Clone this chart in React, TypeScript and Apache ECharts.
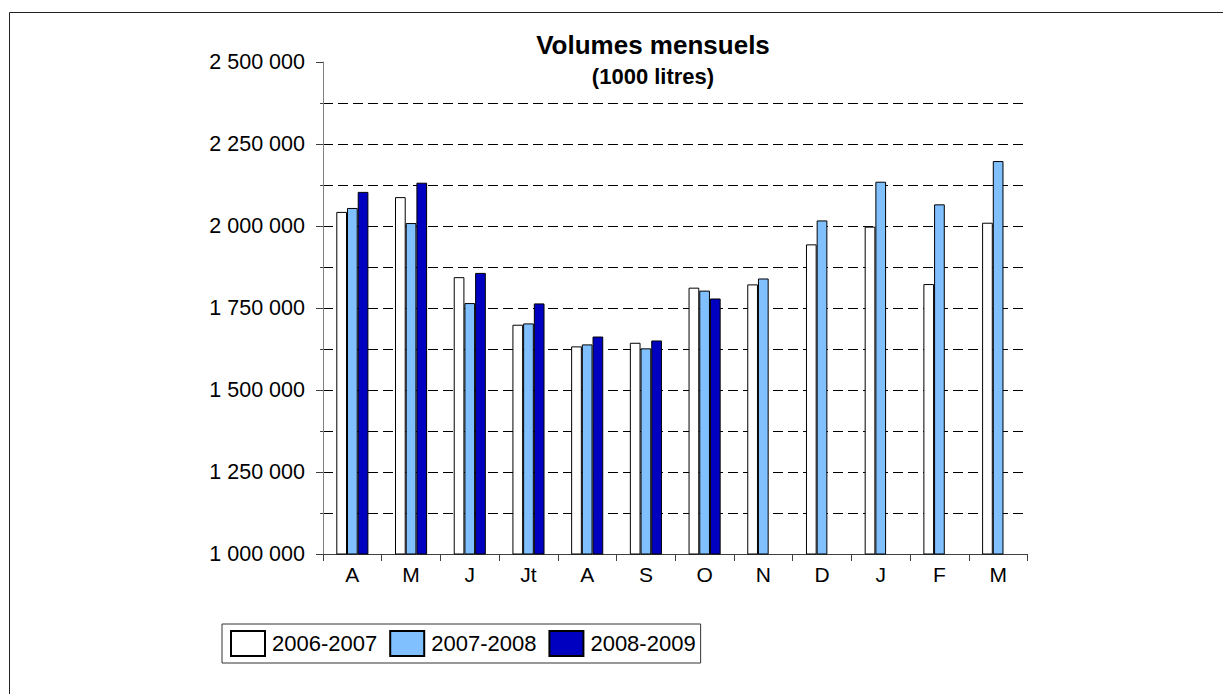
import React, { useEffect, useRef } from "react";
import * as echarts from "echarts";

const months = ["A", "M", "J", "Jt", "A", "S", "O", "N", "D", "J", "F", "M"];
const seriesNames = ["2006-2007", "2007-2008", "2008-2009"];
const s2006 = [2043000, 2088000, 1844000, 1699000, 1633000, 1644000, 1812000, 1822000, 1944000, 1998000, 1823000, 2010000];
const s2007 = [2055000, 2009000, 1765000, 1703000, 1639000, 1627000, 1803000, 1840000, 2017000, 2135000, 2066000, 2198000];
const s2008 = [2104000, 2132000, 1857000, 1764000, 1663000, 1651000, 1779000, null, null, null, null, null];
const colors = ["#FFFFFF", "#80C0FF", "#0000C0"];

const fmt = (v: number) => String(Math.round(v)).replace(/\B(?=(\d{3})+(?!\d))/g, " ");

export default function App() {
  const ref = useRef<HTMLDivElement>(null);
  useEffect(() => {
    if (!ref.current) return;
    const chart = echarts.init(ref.current, null, { renderer: "svg" });
    const font = "'Liberation Sans', Arial, sans-serif";
    const dataSets = [s2006, s2007, s2008];
    chart.setOption({
      animation: false,
      backgroundColor: "#fff",
      textStyle: { fontFamily: font },
      title: {
        text: "Volumes mensuels",
        subtext: "(1000 litres)",
        left: 653,
        top: 29.5,
        padding: 0,
        textAlign: "center",
        itemGap: 4,
        textStyle: { fontFamily: font, fontSize: 26, fontWeight: "bold", color: "#000", lineHeight: 30 },
        subtextStyle: { fontFamily: font, fontSize: 22, fontWeight: "bold", color: "#000", lineHeight: 26 },
      },
      graphic: [
        {
          type: "rect",
          shape: { x: 9.5, y: 12.5, width: 1400, height: 900 },
          style: { fill: "none", stroke: "#222", lineWidth: 1 },
          silent: true,
          z: -10,
        },
      ],
      legend: {
        left: 222,
        top: 624,
        orient: "horizontal",
        padding: [6, 5, 6, 8],
        itemWidth: 34,
        itemHeight: 25,
        itemGap: 12,
        borderColor: "#333",
        borderWidth: 1,
        icon: "rect",
        textStyle: { fontFamily: font, fontSize: 22, color: "#000", padding: [0, 0, 0, 2] },
        data: seriesNames,
      },
      grid: { left: 323, right: 195.5, top: 62, bottom: 140 },
      xAxis: {
        type: "category",
        data: months,
        axisLine: { show: true, lineStyle: { color: "#404040", width: 1 } },
        axisTick: { show: true, length: 7, inside: false, lineStyle: { color: "#404040" } },
        axisLabel: { fontFamily: font, fontSize: 21, color: "#000", margin: 10 },
        splitLine: { show: false },
      },
      yAxis: {
        type: "value",
        min: 1000000,
        max: 2500000,
        interval: 250000,
        axisLine: { show: true, lineStyle: { color: "#808080", width: 1 } },
        axisTick: { show: true, length: 7, lineStyle: { color: "#404040" } },
        minorTick: { show: true, splitNumber: 2, length: 3, lineStyle: { color: "#404040" } },
        axisLabel: { fontFamily: font, fontSize: 21.5, color: "#000", margin: 18, formatter: (v: number) => fmt(v) },
        splitLine: {
          show: true,
          showMinLine: false,
          showMaxLine: false,
          lineStyle: { color: "#000", type: [10, 5], width: 1 },
        },
        minorSplitLine: { show: true, lineStyle: { color: "#000", type: [10, 5], width: 1 } },
      },
      series: seriesNames.map((name, i) => ({
        name,
        type: "bar",
        data: dataSets[i],
        barWidth: 10.7,
        barGap: "0%",
        itemStyle: { color: colors[i], borderColor: "#000", borderWidth: 1 },
      })),
    });
    return () => chart.dispose();
  }, []);
  return (
    <div
      ref={ref}
      style={{ position: "fixed", left: 0, top: 0, width: 1223, height: 694, background: "#fff" }}
    />
  );
}
